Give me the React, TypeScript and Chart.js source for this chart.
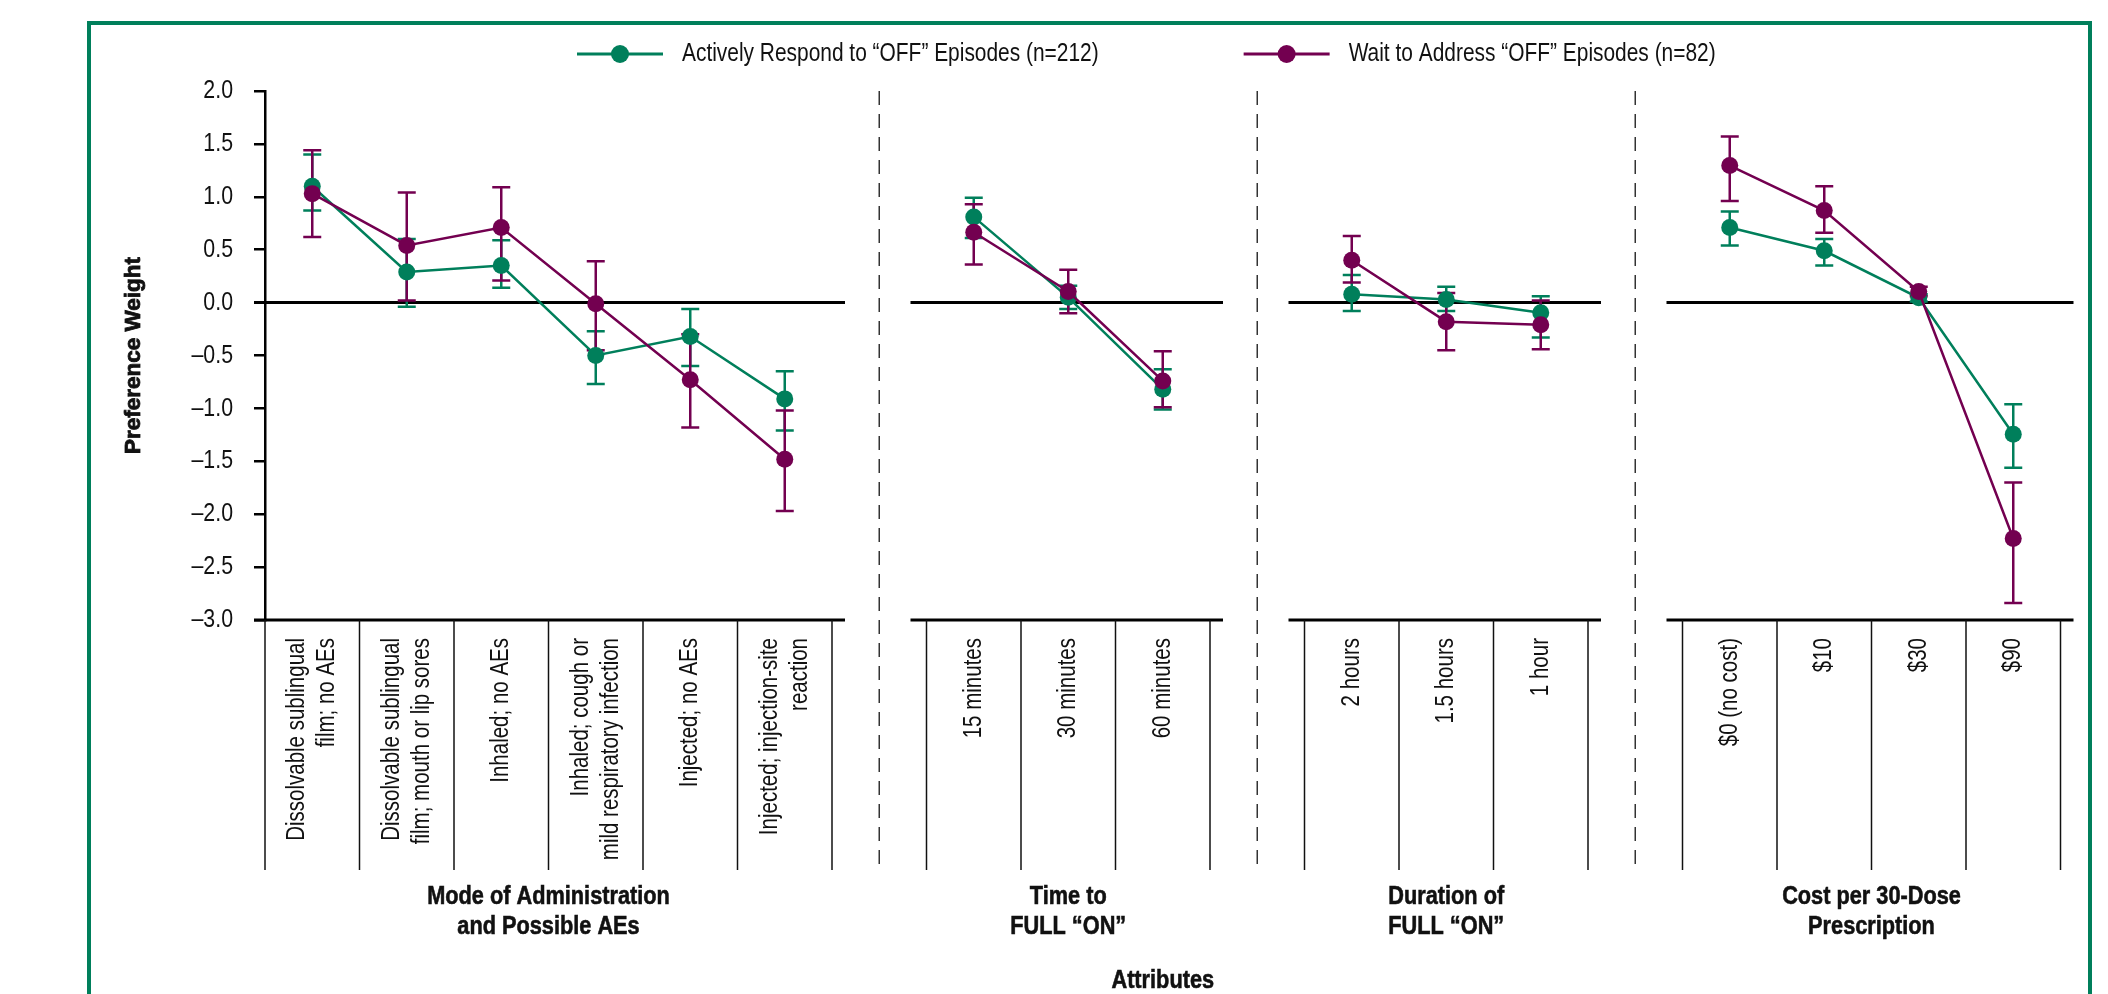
import React, { useEffect, useRef } from "react";
import { Chart, registerables } from "chart.js";

Chart.register(...registerables);

// ---------- data ----------
const seriesNames = [
  "Actively Respond to \u201cOFF\u201d Episodes (n=212)",
  "Wait to Address \u201cOFF\u201d Episodes (n=82)",
];

const panelTitles = [
  ["Mode of Administration", "and Possible AEs"],
  ["Time to", "FULL \u201cON\u201d"],
  ["Duration of", "FULL \u201cON\u201d"],
  ["Cost per 30-Dose", "Prescription"],
];
const axisTitleX = "Attributes";
const axisTitleY = "Preference Weight";

const modeLabels = [
  ["Dissolvable sublingual", "film; no AEs"],
  ["Dissolvable sublingual", "film; mouth or lip sores"],
  ["Inhaled; no AEs"],
  ["Inhaled; cough or", "mild respiratory infection"],
  ["Injected; no AEs"],
  ["Injected; injection-site", "reaction"],
];
const timeLabels = [["15 minutes"], ["30 minutes"], ["60 minutes"]];
const durationLabels = [["2 hours"], ["1.5 hours"], ["1 hour"]];
const costLabels = [["$0 (no cost)"], ["$10"], ["$30"], ["$90"]];

// Actively respond
const activeMode = [1.1, 0.29, 0.35, -0.5, -0.32, -0.91];
const activeModeLow = [0.87, -0.04, 0.14, -0.77, -0.6, -1.21];
const activeModeHigh = [1.4, 0.6, 0.59, -0.27, -0.06, -0.65];
const activeTime = [0.81, 0.05, -0.82];
const activeTimeLow = [0.61, -0.06, -1.01];
const activeTimeHigh = [0.99, 0.16, -0.63];
const activeDuration = [0.08, 0.03, -0.095];
const activeDurationLow = [-0.08, -0.08, -0.33];
const activeDurationHigh = [0.26, 0.15, 0.06];
const activeCost = [0.71, 0.49, 0.045, -1.245];
const activeCostLow = [0.54, 0.35, 0.01, -1.56];
const activeCostHigh = [0.86, 0.6, 0.08, -0.96];

// Wait to address
const waitMode = [1.03, 0.54, 0.71, -0.01, -0.73, -1.48];
const waitModeLow = [0.62, 0.02, 0.21, -0.45, -1.18, -1.97];
const waitModeHigh = [1.44, 1.04, 1.09, 0.39, -0.3, -1.02];
const waitTime = [0.665, 0.105, -0.74];
const waitTimeLow = [0.36, -0.1, -0.99];
const waitTimeHigh = [0.93, 0.31, -0.46];
const waitDuration = [0.4, -0.18, -0.21];
const waitDurationLow = [0.19, -0.45, -0.44];
const waitDurationHigh = [0.63, 0.09, 0.02];
const waitCost = [1.295, 0.87, 0.105, -2.23];
const waitCostLow = [0.96, 0.66, 0.06, -2.84];
const waitCostHigh = [1.57, 1.1, 0.15, -1.7];

const yMin = -3;
const yMax = 2;
const yStep = 0.5;

// ---------- styles ----------
const GREEN = "#007f5b";
const PURPLE = "#730050";
const SANS = "'Liberation Sans', Arial, sans-serif";
const NARROW_SCALE = 0.82;
const W = 2108;
const H = 994;

// ---------- build library tables ----------
const panelCats = [modeLabels, timeLabels, durationLabels, costLabels];
const activeVals = [activeMode, activeTime, activeDuration, activeCost];
const activeLows = [activeModeLow, activeTimeLow, activeDurationLow, activeCostLow];
const activeHighs = [activeModeHigh, activeTimeHigh, activeDurationHigh, activeCostHigh];
const waitVals = [waitMode, waitTime, waitDuration, waitCost];
const waitLows = [waitModeLow, waitTimeLow, waitDurationLow, waitCostLow];
const waitHighs = [waitModeHigh, waitTimeHigh, waitDurationHigh, waitCostHigh];

type Slot = { key: string; panel: number; lines: string[] | null };
const slots: Slot[] = [];
const panelRanges: { first: number; last: number }[] = [];
const gapSlots: number[] = [];
const aData: (number | null)[] = [];
const aLow: (number | null)[] = [];
const aHigh: (number | null)[] = [];
const wData: (number | null)[] = [];
const wLow: (number | null)[] = [];
const wHigh: (number | null)[] = [];

panelCats.forEach((cats, p) => {
  if (p > 0) {
    gapSlots.push(slots.length);
    slots.push({ key: "gap" + p, panel: -1, lines: null });
    [aData, aLow, aHigh, wData, wLow, wHigh].forEach((arr) => arr.push(null));
  }
  const first = slots.length;
  cats.forEach((lines, i) => {
    slots.push({ key: lines.join(" "), panel: p, lines });
    aData.push(activeVals[p][i]);
    aLow.push(activeLows[p][i]);
    aHigh.push(activeHighs[p][i]);
    wData.push(waitVals[p][i]);
    wLow.push(waitLows[p][i]);
    wHigh.push(waitHighs[p][i]);
  });
  panelRanges.push({ first, last: slots.length - 1 });
});

const errorLow = [aLow, wLow];
const errorHigh = [aHigh, wHigh];

const fmt = (v: number) => {
  const s = Math.abs(v).toFixed(1);
  return v < -1e-9 ? "\u2013" + s : s;
};

// condensed text: Liberation Sans squeezed along the text direction
function narrowText(
  ctx: CanvasRenderingContext2D,
  text: string,
  x: number,
  y: number,
  size: number,
  align: CanvasTextAlign,
  bold = false,
  rot = 0
) {
  ctx.save();
  ctx.translate(x, y);
  if (rot) ctx.rotate(rot);
  ctx.scale(NARROW_SCALE, 1);
  ctx.font = `${bold ? "bold " : ""}${size}px ${SANS}`;
  ctx.textAlign = align;
  ctx.textBaseline = "middle";
  ctx.fillText(text, 0, 0);
  if (bold) {
    ctx.strokeStyle = ctx.fillStyle as string;
    ctx.lineWidth = 0.6;
    ctx.strokeText(text, 0, 0);
  }
  const w = ctx.measureText(text).width * NARROW_SCALE;
  ctx.restore();
  return w;
}

const decorPlugin = {
  id: "decor",
  beforeDatasetsDraw(chart: any) {
    const ctx = chart.ctx;
    const xs = chart.scales.x;
    const ys = chart.scales.y;
    const area = chart.chartArea;
    const half = (xs.getPixelForValue(1) - xs.getPixelForValue(0)) / 2;
    const y0 = ys.getPixelForValue(0);
    const yb = ys.getPixelForValue(yMin);
    const sepBottom = yb + 250;
    ctx.save();

    // frame
    ctx.strokeStyle = GREEN;
    ctx.lineWidth = 4;
    ctx.strokeRect(89, 23, 2001, 1100);

    // zero lines + bottom axis per panel
    ctx.strokeStyle = "#000";
    ctx.lineWidth = 3;
    panelRanges.forEach((r, p) => {
      const l = p === 0 ? area.left - 11 : xs.getPixelForValue(r.first) - half - 16;
      const rt = xs.getPixelForValue(r.last) + half + 13;
      ctx.beginPath();
      ctx.moveTo(l, y0);
      ctx.lineTo(rt, y0);
      ctx.moveTo(l, yb);
      ctx.lineTo(rt, yb);
      ctx.stroke();
    });

    // category separators below axis
    ctx.lineWidth = 1.5;
    ctx.strokeStyle = "#111";
    panelRanges.forEach((r) => {
      for (let i = r.first; i <= r.last + 1; i++) {
        const x = xs.getPixelForValue(i) - half;
        ctx.beginPath();
        ctx.moveTo(x, yb);
        ctx.lineTo(x, sepBottom);
        ctx.stroke();
      }
    });

    // dashed panel dividers
    ctx.setLineDash([14, 9]);
    ctx.strokeStyle = "#333";
    ctx.lineWidth = 1.5;
    gapSlots.forEach((g) => {
      const x = xs.getPixelForValue(g);
      ctx.beginPath();
      ctx.moveTo(x, area.top);
      ctx.lineTo(x, sepBottom);
      ctx.stroke();
    });
    ctx.setLineDash([]);

    // error bars
    chart.data.datasets.forEach((ds: any, di: number) => {
      ctx.strokeStyle = ds.borderColor;
      ctx.lineWidth = 2.5;
      ds.data.forEach((v: number | null, i: number) => {
        if (v === null) return;
        const x = xs.getPixelForValue(i);
        const lo = ys.getPixelForValue(errorLow[di][i] as number);
        const hi = ys.getPixelForValue(errorHigh[di][i] as number);
        ctx.beginPath();
        ctx.moveTo(x, lo);
        ctx.lineTo(x, hi);
        ctx.moveTo(x - 9, lo);
        ctx.lineTo(x + 9, lo);
        ctx.moveTo(x - 9, hi);
        ctx.lineTo(x + 9, hi);
        ctx.stroke();
      });
    });
    ctx.restore();
  },
  afterDraw(chart: any) {
    const ctx = chart.ctx;
    const xs = chart.scales.x;
    const ys = chart.scales.y;
    const area = chart.chartArea;
    const yb = ys.getPixelForValue(yMin);
    ctx.save();
    ctx.fillStyle = "#111";

    // y tick labels (values and positions from the y scale)
    ys.ticks.forEach((t: any) => {
      narrowText(ctx, fmt(t.value), area.left - 11 - 21, ys.getPixelForValue(t.value), 26, "right");
    });

    // category labels (rotated)
    const lh = 30;
    slots.forEach((s, i) => {
      if (!s.lines) return;
      const cx = xs.getPixelForValue(i);
      const n = s.lines.length;
      s.lines.forEach((line, k) => {
        narrowText(ctx, line, cx + (k - (n - 1) / 2) * lh, yb + 18, 25, "right", false, -Math.PI / 2);
      });
    });

    // panel titles
    panelRanges.forEach((r, p) => {
      const cx = (xs.getPixelForValue(r.first) + xs.getPixelForValue(r.last)) / 2;
      panelTitles[p].forEach((t, k) => narrowText(ctx, t, cx, yb + 277 + k * 30, 26.5, "center", true));
    });
    narrowText(ctx, axisTitleX, (area.left + area.right) / 2, yb + 361, 26.5, "center", true);

    // y title
    ctx.save();
    ctx.font = `bold 22.5px ${SANS}`;
    ctx.textAlign = "center";
    ctx.textBaseline = "middle";
    ctx.translate(134, (area.top + area.bottom) / 2);
    ctx.rotate(-Math.PI / 2);
    ctx.fillText(axisTitleY, 0, 0);
    ctx.strokeStyle = "#111";
    ctx.lineWidth = 0.8;
    ctx.strokeText(axisTitleY, 0, 0);
    ctx.restore();

    // legend
    let lx = 577;
    const ly = 54;
    chart.data.datasets.forEach((ds: any, di: number) => {
      ctx.strokeStyle = ds.borderColor;
      ctx.fillStyle = ds.borderColor;
      ctx.lineWidth = 3;
      ctx.beginPath();
      ctx.moveTo(lx, ly);
      ctx.lineTo(lx + 86, ly);
      ctx.stroke();
      ctx.beginPath();
      ctx.arc(lx + 43, ly, 9, 0, Math.PI * 2);
      ctx.fill();
      ctx.fillStyle = "#111";
      const w = narrowText(ctx, seriesNames[di], lx + 105, ly, 25.5, "left");
      lx = lx + 105 + w + 145;
    });
    ctx.restore();
  },
};

export default function App() {
  const ref = useRef<HTMLCanvasElement>(null);
  useEffect(() => {
    if (!ref.current) return;
    const chart = new Chart(ref.current, {
      type: "line",
      data: {
        labels: slots.map((s) => s.key),
        datasets: [
          {
            label: seriesNames[0],
            data: aData,
            borderColor: GREEN,
            backgroundColor: GREEN,
            pointBackgroundColor: GREEN,
            borderWidth: 2.5,
            pointRadius: 8.5,
            pointBorderWidth: 0,
            spanGaps: false,
            tension: 0,
            order: 1,
          },
          {
            label: seriesNames[1],
            data: wData,
            borderColor: PURPLE,
            backgroundColor: PURPLE,
            pointBackgroundColor: PURPLE,
            borderWidth: 2.5,
            pointRadius: 8.5,
            pointBorderWidth: 0,
            spanGaps: false,
            tension: 0,
            order: 0,
          },
        ],
      },
      options: {
        responsive: false,
        animation: false,
        events: [],
        layout: { padding: { left: 165, right: 47.5, top: 91, bottom: 374 } },
        plugins: { legend: { display: false }, tooltip: { enabled: false } },
        scales: {
          x: { type: "category", offset: true, display: false },
          y: {
            min: yMin,
            max: yMax,
            afterFit: (s: any) => {
              s.width = 100;
            },
            ticks: {
              stepSize: yStep,
              padding: 21,
              color: "rgba(0,0,0,0)",
              font: { family: SANS, size: 24 },
              callback: (v: any) => fmt(Number(v)),
            },
            grid: {
              drawOnChartArea: false,
              drawTicks: true,
              tickLength: 11,
              color: "#000",
              lineWidth: 2.5,
            },
            border: { display: true, color: "#000", width: 2.5 },
          },
        },
      },
      plugins: [decorPlugin],
    } as any);
    return () => chart.destroy();
  }, []);
  return (
    <div style={{ position: "absolute", left: 0, top: 0, width: W, height: H, background: "#fff" }}>
      <canvas ref={ref} width={W} height={H} style={{ display: "block", width: W, height: H }} />
    </div>
  );
}
